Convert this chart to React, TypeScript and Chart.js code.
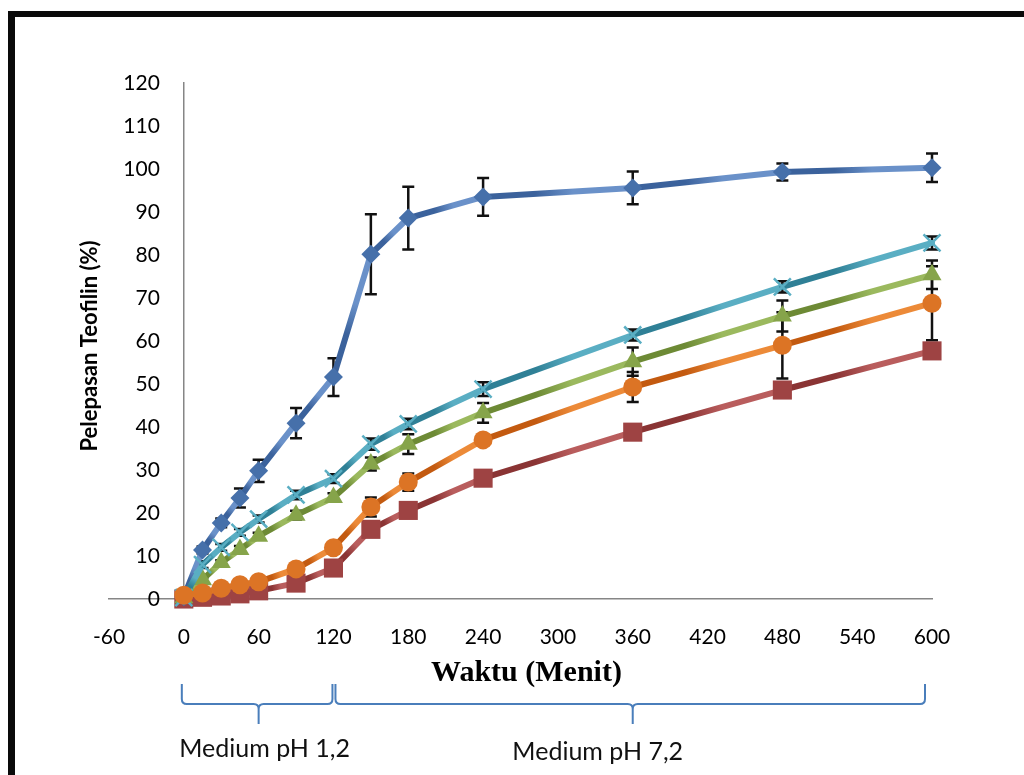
import React, { useEffect, useRef } from 'react';
import { Chart, registerables } from 'chart.js';

Chart.register(...registerables);

// Sampling times (minutes)
const timeMinutes = [0, 15, 30, 45, 60, 90, 120, 150, 180, 240, 360, 480, 600];

// Cumulative theophylline release (%) per formula, with standard deviations
const releaseF1 = [0.5, 11.4, 17.7, 23.5, 29.8, 40.9, 51.6, 80.2, 88.6, 93.5, 95.6, 99.3, 100.3];
const sdF1 = [0, 0.8, 1, 2.2, 2.6, 3.5, 4.4, 9.3, 7.3, 4.4, 3.8, 2, 3.3];

const releaseF2 = [0.3, 8, 12, 15.5, 18.6, 24.2, 28, 36, 40.7, 48.8, 61.4, 72.6, 82.8];
const sdF2 = [0, 0.8, 0.8, 0.8, 0.8, 1, 1, 1.3, 1.2, 1.6, 1.3, 1.3, 1.5];

const releaseF3 = [0.3, 4.5, 8.5, 11.5, 14.6, 19.5, 23.6, 31.4, 36, 43.3, 55.2, 65.8, 75.4];
const sdF3 = [0, 0.5, 0.5, 0.8, 0.8, 1, 1, 1.5, 2.3, 2.3, 3.3, 3.6, 3.3];

const releaseF4 = [0.9, 1.4, 2.5, 3.3, 4.0, 7.0, 11.9, 21.4, 27.2, 37, 49.3, 59, 68.8];
const sdF4 = [0, 0.3, 0.3, 0.3, 0.3, 0.5, 0.8, 2.2, 2, 1.2, 3.5, 7.7, 8.6];

const releaseF5 = [0, 0.4, 0.7, 1.2, 1.9, 3.7, 7.2, 16.2, 20.6, 28.1, 38.8, 48.6, 57.7];
const sdF5 = [0, 0.2, 0.2, 0.3, 0.3, 0.5, 0.5, 0.8, 0.8, 0.8, 1, 1, 1];

// Axis ranges
const xMin = -60;
const xMax = 600;
const xStep = 60;
const yMin = 0;
const yMax = 120;
const yStep = 10;

// Dissolution media stages (minutes)
const stageLabels = ['Medium pH 1,2', 'Medium pH 7,2'];
const stageStart = [0, 120];
const stageEnd = [120, 600];

const xTitle = 'Waktu (Menit)';
const yTitle = 'Pelepasan Teofilin (%)';

type SeriesStyle = {
  label: string;
  values: number[];
  sd: number[];
  pointStyle: string;
  radius: number;
  dark: string;
  light: string;
  marker: string;
  order: number;
};

const series: SeriesStyle[] = [
  { label: 'F1', values: releaseF1, sd: sdF1, pointStyle: 'rectRot', radius: 9.5, dark: '#3b629c', light: '#6a91c9', marker: '#4670aa', order: 3 },
  { label: 'F2', values: releaseF2, sd: sdF2, pointStyle: 'crossRot', radius: 12, dark: '#2f8096', light: '#5aaec3', marker: '#4aa6bd', order: 1 },
  { label: 'F3', values: releaseF3, sd: sdF3, pointStyle: 'triangle', radius: 11, dark: '#6d8a35', light: '#9bb95e', marker: '#86a44a', order: 2 },
  { label: 'F4', values: releaseF4, sd: sdF4, pointStyle: 'circle', radius: 9.5, dark: '#c35a10', light: '#ec8a38', marker: '#dc7425', order: 0 },
  { label: 'F5', values: releaseF5, sd: sdF5, pointStyle: 'rect', radius: 13.5, dark: '#8a3434', light: '#b95d5d', marker: '#9e4343', order: 4 },
];

const sansFamily = 'Lato, "Open Sans", sans-serif';
const tickFont = { family: sansFamily, size: 21 };

const decorPlugin = {
  id: 'decor',
  beforeDraw(chart: any) {
    const { ctx } = chart;
    ctx.save();
    ctx.fillStyle = '#ffffff';
    ctx.fillRect(0, 0, chart.width, chart.height);
    // page frame
    ctx.fillStyle = '#0a0a0a';
    ctx.fillRect(8, 11, chart.width - 8, 6);
    ctx.fillRect(8, 11, 7, chart.height - 11);
    ctx.restore();
  },
  beforeDatasetsDraw(chart: any) {
    const { ctx } = chart;
    const xs = chart.scales.x;
    const ys = chart.scales.y;
    ctx.save();
    ctx.strokeStyle = '#111111';
    ctx.lineWidth = 2.5;
    series.forEach((s) => {
      s.values.forEach((v, i) => {
        const e = s.sd[i];
        if (!e) return;
        const x = xs.getPixelForValue(timeMinutes[i]);
        const yT = ys.getPixelForValue(v + e);
        const yB = ys.getPixelForValue(v - e);
        ctx.beginPath();
        ctx.moveTo(x, yT);
        ctx.lineTo(x, yB);
        ctx.moveTo(x - 6, yT);
        ctx.lineTo(x + 6, yT);
        ctx.moveTo(x - 6, yB);
        ctx.lineTo(x + 6, yB);
        ctx.stroke();
      });
    });
    ctx.restore();
  },
  afterDraw(chart: any) {
    const { ctx, chartArea } = chart;
    const xs = chart.scales.x;
    const ys = chart.scales.y;
    ctx.save();

    // y tick labels, right-aligned beside the axis line at x = 0
    const axisX = xs.getPixelForValue(0);
    ctx.fillStyle = '#000000';
    ctx.font = `21px ${sansFamily}`;
    ctx.textAlign = 'right';
    ctx.textBaseline = 'middle';
    ys.ticks.forEach((t: any) => {
      ctx.fillText(String(t.value), axisX - 24, ys.getPixelForValue(t.value));
    });

    // axis titles
    ctx.textAlign = 'center';
    ctx.font = 'bold 30px "Liberation Serif", "Times New Roman", serif';
    ctx.fillText(xTitle, (chartArea.left + chartArea.right) / 2 + 6, chartArea.bottom + 74);

    ctx.save();
    ctx.translate(90, (chartArea.top + chartArea.bottom) / 2 + 5);
    ctx.rotate(-Math.PI / 2);
    ctx.font = `bold 22px ${sansFamily}`;
    ctx.fillText(yTitle, 0, 0);
    ctx.restore();

    // stage braces
    const yTop = chartArea.bottom + 85;
    const yMid = chartArea.bottom + 105;
    const yTip = chartArea.bottom + 125;
    const r = 5;
    ctx.strokeStyle = '#4a7ebb';
    ctx.lineWidth = 2;
    stageLabels.forEach((label, k) => {
      const x0 = xs.getPixelForValue(stageStart[k]) + (k === 0 ? -2 : 2);
      const x1 = xs.getPixelForValue(stageEnd[k]) - (k === 0 ? 1 : 7);
      const xm = xs.getPixelForValue((stageStart[k] + stageEnd[k]) / 2);
      ctx.beginPath();
      ctx.moveTo(x0, yTop);
      ctx.lineTo(x0, yMid - r);
      ctx.quadraticCurveTo(x0, yMid, x0 + r, yMid);
      ctx.lineTo(xm - r, yMid);
      ctx.quadraticCurveTo(xm, yMid, xm, yMid + r);
      ctx.lineTo(xm, yTip);
      ctx.moveTo(xm, yMid + r);
      ctx.quadraticCurveTo(xm, yMid, xm + r, yMid);
      ctx.lineTo(x1 - r, yMid);
      ctx.quadraticCurveTo(x1, yMid, x1, yMid - r);
      ctx.lineTo(x1, yTop);
      ctx.stroke();

      ctx.fillStyle = '#111111';
      ctx.font = `25px ${sansFamily}`;
      const labelX = k === 0 ? xm + 6 : xm - 35;
      const labelY = k === 0 ? chartArea.bottom + 150 : chartArea.bottom + 153;
      ctx.fillText(label, labelX, labelY);
    });

    ctx.restore();
  },
};

export default function App() {
  const canvasRef = useRef<HTMLCanvasElement | null>(null);

  useEffect(() => {
    const canvas = canvasRef.current;
    if (!canvas) return;

    const datasets = series.map((s) => ({
      label: s.label,
      data: timeMinutes.map((t, i) => ({ x: t, y: s.values[i] })),
      order: s.order,
      borderColor: s.marker,
      borderWidth: 6,
      borderCapStyle: 'round',
      borderJoinStyle: 'round',
      pointStyle: s.pointStyle,
      pointRadius: s.radius,
      pointBackgroundColor: s.marker,
      pointBorderColor: s.pointStyle === 'crossRot' ? s.light : s.marker,
      pointBorderWidth: s.pointStyle === 'crossRot' ? 2.5 : 0,
      tension: 0,
      clip: false,
      segment: {
        borderColor: (c: any) => {
          const g = c.chart.ctx.createLinearGradient(c.p0.x, c.p0.y, c.p1.x, c.p1.y);
          g.addColorStop(0, s.dark);
          g.addColorStop(0.35, s.dark);
          g.addColorStop(0.6, s.light);
          g.addColorStop(1, s.light);
          return g;
        },
        borderDashOffset: (c: any) => c.p0DataIndex,
      },
    }));

    const chart = new Chart(canvas, {
      type: 'line',
      data: { datasets } as any,
      plugins: [decorPlugin],
      options: {
        responsive: false,
        animation: false,
        devicePixelRatio: 1,
        layout: { padding: { left: 109, right: 92, top: 83, bottom: 176 }, autoPadding: false },
        plugins: { legend: { display: false }, tooltip: { enabled: false } },
        scales: {
          x: {
            type: 'linear',
            min: xMin,
            max: xMax,
            position: { y: 0 },
            ticks: { stepSize: xStep, color: '#000000', font: tickFont, padding: 26 },
            grid: { display: false, drawTicks: false },
            border: { display: true, color: '#868686', width: 1.5 },
          },
          y: {
            type: 'linear',
            min: yMin,
            max: yMax,
            position: { x: 0 },
            ticks: { stepSize: yStep, display: false },
            grid: { display: false, drawTicks: false },
            border: { display: true, color: '#868686', width: 1.5 },
          },
        },
      } as any,
    });

    return () => chart.destroy();
  }, []);

  return (
    <div style={{ position: 'absolute', left: 0, top: 0, width: 1024, height: 775, background: '#ffffff' }}>
      <canvas ref={canvasRef} width={1024} height={775} style={{ display: 'block', width: 1024, height: 775 }} />
    </div>
  );
}
